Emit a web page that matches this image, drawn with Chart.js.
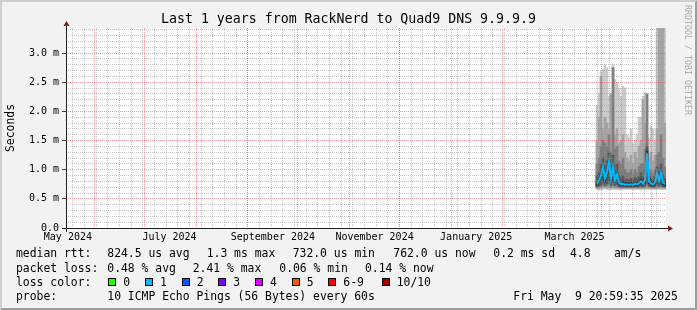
<!DOCTYPE html>
<html>
<head>
<meta charset="utf-8">
<script src="https://cdn.jsdelivr.net/npm/chart.js@4.4.0/dist/chart.umd.min.js"></script>
<style>
body { margin: 0; background: #f2f2f2; }
#wrap { position: relative; width: 697px; height: 310px; font-family: 'DejaVu Sans Mono', monospace; color: #000; }
#wrap canvas { position: absolute; left: 0; top: 0; }
.t { position: absolute; white-space: pre; font-size: 11.4px; line-height: 14px; }
.sw { position: absolute; top: 278px; width: 8px; height: 8px; box-sizing: border-box; border: 1px solid #000; }
#title { left: 0; width: 697px; text-align: center; top: 11.4px; font-size: 13.25px; line-height: 16px; }
#wm { left: 693px; top: 5px; font-size: 8.3px; line-height: 10px; color: rgba(0,0,0,0.33); transform: rotate(90deg); transform-origin: 0 0; }
</style>
</head>
<body>
<div id="wrap">
  <canvas id="graph" width="697" height="310"></canvas>
  <div class="t" id="title">Last 1 years from RackNerd to Quad9 DNS 9.9.9.9</div>
  <div class="t" id="wm">RRDTOOL / TOBI OETIKER</div>

  <div class="t" style="left:16px;top:246.4px">median rtt:</div>
  <div class="t" style="left:107.3px;top:246.4px">824.5 us avg</div>
  <div class="t" style="left:206.7px;top:246.4px">1.3 ms max</div>
  <div class="t" style="left:292.7px;top:246.4px">732.0 us min</div>
  <div class="t" style="left:393.3px;top:246.4px">762.0 us now</div>
  <div class="t" style="left:493.3px;top:246.4px">0.2 ms sd</div>
  <div class="t" style="left:570px;top:246.4px">4.8</div>
  <div class="t" style="left:614px;top:246.4px">am/s</div>

  <div class="t" style="left:16px;top:260.9px">packet loss:</div>
  <div class="t" style="left:107.3px;top:260.9px">0.48 % avg</div>
  <div class="t" style="left:192.7px;top:260.9px">2.41 % max</div>
  <div class="t" style="left:279.3px;top:260.9px">0.06 % min</div>
  <div class="t" style="left:365px;top:260.9px">0.14 % now</div>

  <div class="t" style="left:16px;top:274.8px">loss color:</div>
  <div id="losskey"></div>

  <div class="t" style="left:16px;top:288.6px">probe:</div>
  <div class="t" style="left:107.3px;top:288.6px">10 ICMP Echo Pings (56 Bytes) every 60s</div>
  <div class="t" style="left:513.3px;top:288.6px">Fri May  9 20:59:35 2025</div>
</div>
<script>
// graph covers 360 days ending Fri May 9 2025 20:59 -> x values are days since the left edge
const start = Date.parse('2024-05-14T21:00:00Z');
const span = 360;
const toDay = d => (Date.parse(d + 'T00:00:00Z') - start) / 86400000;

const monthLines = ['2024-06-01', '2024-07-01', '2024-08-01', '2024-09-01', '2024-10-01', '2024-11-01',
  '2024-12-01', '2025-01-01', '2025-02-01', '2025-03-01', '2025-04-01', '2025-05-01'];
const labelDates = ['2024-05-16', '2024-07-16', '2024-09-16', '2024-11-16', '2025-01-16', '2025-03-16'];
const monthLabels = ['May 2024', 'July 2024', 'September 2024', 'November 2024', 'January 2025', 'March 2025'];
const firstWeek = '2024-05-19';

// loss legend
const lossNames = ['0', '1', '2', '3', '4', '5', '6-9', '10/10'];
const lossColors = ['#26ff00', '#00b8ff', '#0059ff', '#7e00ff', '#dd00ff', '#ff5500', '#ff0000', '#a00000'];
const lossX = [108.3, 145, 181.7, 218.3, 255, 291.7, 328.3, 381.7];

// data only exists for the last ~6 weeks (values in ms)
const times = [318.6, 319.8, 321.0, 322.2, 323.4, 324.6, 325.8, 327.0, 328.2, 329.4,
  330.6, 331.8, 333.0, 334.2, 335.4, 336.6, 337.8, 339.0, 340.2, 341.4,
  342.6, 343.8, 345.0, 346.2, 347.4, 348.6, 349.8, 351.0, 352.2, 353.4,
  354.6, 355.8, 357.0, 358.2, 359.4];
const median = [0.76, 0.82, 0.90, 1.05, 0.85, 0.95, 1.14, 0.85, 1.05, 0.82,
  0.92, 0.78, 0.75, 0.76, 0.74, 0.75, 0.74, 0.75, 0.74, 0.76,
  0.75, 0.77, 0.80, 0.76, 0.82, 1.28, 0.80, 0.76, 0.75, 0.78,
  0.95, 0.80, 0.95, 0.78, 0.75];
// smoke bands, outermost (lightest) to innermost (darkest)
const band1Lo = [0.66, 0.65, 0.66, 0.66, 0.67, 0.66, 0.66, 0.65, 0.66, 0.66,
  0.66, 0.65, 0.66, 0.66, 0.66, 0.66, 0.66, 0.66, 0.65, 0.66,
  0.66, 0.66, 0.65, 0.66, 0.66, 0.66, 0.66, 0.66, 0.66, 0.66,
  0.66, 0.66, 0.66, 0.66, 0.66];
const band1Hi = [2.10, 2.30, 2.68, 2.72, 2.80, 2.75, 2.26, 2.30, 2.80, 2.55,
  2.50, 2.40, 2.26, 2.43, 2.40, 1.60, 1.55, 1.70, 1.45, 1.50,
  1.60, 1.90, 1.90, 2.26, 2.32, 2.30, 1.55, 1.75, 1.70, 1.50,
  3.50, 3.50, 3.50, 3.50, 3.50];
const band2Lo = [0.68, 0.67, 0.68, 0.69, 0.70, 0.68, 0.69, 0.68, 0.69, 0.68,
  0.68, 0.68, 0.68, 0.68, 0.68, 0.68, 0.68, 0.68, 0.68, 0.68,
  0.68, 0.68, 0.68, 0.68, 0.68, 0.68, 0.68, 0.68, 0.68, 0.68,
  0.68, 0.68, 0.68, 0.68, 0.68];
const band2Hi = [1.50, 1.90, 2.60, 1.70, 1.90, 1.80, 1.70, 2.30, 2.00, 1.60,
  1.70, 1.45, 1.50, 1.60, 1.30, 1.20, 1.15, 1.25, 1.10, 1.30,
  1.20, 1.40, 1.50, 2.20, 1.80, 1.60, 1.20, 1.30, 1.15, 1.25,
  1.70, 3.50, 3.50, 3.50, 1.80];
const band3Lo = [0.69, 0.70, 0.71, 0.73, 0.71, 0.72, 0.74, 0.70, 0.73, 0.70,
  0.71, 0.69, 0.69, 0.69, 0.69, 0.69, 0.69, 0.69, 0.69, 0.69,
  0.69, 0.69, 0.70, 0.69, 0.70, 0.75, 0.70, 0.69, 0.69, 0.69,
  0.71, 0.70, 0.71, 0.69, 0.69];
const band3Hi = [1.10, 1.20, 1.40, 1.50, 1.45, 1.40, 1.60, 1.30, 2.75, 1.35,
  1.40, 1.15, 1.10, 1.20, 1.00, 0.95, 0.95, 1.00, 0.92, 1.00,
  0.95, 1.05, 1.10, 1.10, 1.35, 2.30, 1.00, 0.98, 0.92, 1.00,
  1.25, 1.30, 1.60, 1.20, 1.05];
const band4Lo = [0.71, 0.72, 0.74, 0.78, 0.74, 0.76, 0.80, 0.73, 0.78, 0.73,
  0.75, 0.71, 0.70, 0.71, 0.70, 0.70, 0.70, 0.70, 0.70, 0.71,
  0.70, 0.71, 0.72, 0.71, 0.72, 0.85, 0.72, 0.71, 0.70, 0.71,
  0.75, 0.72, 0.75, 0.71, 0.70];
const band4Hi = [0.90, 0.95, 1.10, 1.20, 1.05, 1.15, 1.30, 1.05, 1.25, 1.00,
  1.10, 0.90, 0.86, 0.90, 0.82, 0.84, 0.82, 0.85, 0.82, 0.86,
  0.84, 0.88, 0.95, 0.88, 1.00, 1.40, 0.90, 0.86, 0.82, 0.88,
  1.05, 0.95, 1.10, 0.90, 0.85];
const band5Lo = [0.73, 0.78, 0.85, 0.98, 0.80, 0.90, 1.05, 0.80, 0.98, 0.78,
  0.86, 0.75, 0.72, 0.73, 0.72, 0.72, 0.72, 0.72, 0.72, 0.73,
  0.72, 0.74, 0.76, 0.73, 0.77, 1.15, 0.76, 0.73, 0.72, 0.75,
  0.88, 0.76, 0.88, 0.74, 0.72];
const band5Hi = [0.80, 0.85, 0.93, 1.08, 0.90, 0.98, 1.17, 0.88, 1.08, 0.86,
  0.95, 0.81, 0.78, 0.80, 0.77, 0.78, 0.77, 0.78, 0.77, 0.79,
  0.78, 0.80, 0.84, 0.80, 0.86, 1.32, 0.84, 0.80, 0.78, 0.82,
  0.98, 0.84, 0.98, 0.82, 0.78];

const smokeColors = ['#cacaca', '#a4a4a4', '#7e7e7e', '#585858', '#323232'];
const bands = [[band1Lo, band1Hi], [band2Lo, band2Hi], [band3Lo, band3Hi], [band4Lo, band4Hi], [band5Lo, band5Hi]];

const GRID = 'rgba(143,143,143,0.5)';
const MGRID = 'rgba(222,79,79,0.55)';

// loss color key
const key = document.getElementById('losskey');
lossNames.forEach((n, i) => {
  const sw = document.createElement('div');
  sw.className = 'sw';
  sw.style.left = lossX[i] + 'px';
  sw.style.background = lossColors[i];
  key.appendChild(sw);
  const lb = document.createElement('div');
  lb.className = 't';
  lb.style.left = (lossX[i] + 15) + 'px';
  lb.style.top = '274.8px';
  lb.textContent = n;
  key.appendChild(lb);
});

// x ticks: weekly minor grid, monthly major grid, mid-month labels
const xTicks = [];
for (let d = toDay(firstWeek); d < span; d += 7) xTicks.push({value: d, kind: 'week'});
monthLines.forEach(m => xTicks.push({value: toDay(m), kind: 'month'}));
labelDates.forEach((d, i) => xTicks.push({value: toDay(d), kind: 'label', text: monthLabels[i]}));

const yTicks = [];
for (let i = 0; i <= 34; i++) yTicks.push({value: i / 10});
const isMajor = v => v > 0 && Math.abs(v * 2 - Math.round(v * 2)) < 1e-6;

const datasets = [{
  type: 'line',
  label: 'median',
  data: times.map((t, i) => ({x: t, y: median[i]})),
  borderColor: '#00b8ff',
  borderWidth: 2,
  pointRadius: 0,
  tension: 0,
  order: 0
}];
bands.forEach(([lo, hi], b) => {
  datasets.push({
    label: 'smoke' + (b + 1),
    data: times.map((t, i) => ({x: t, y: [lo[i], hi[i]]})),
    backgroundColor: smokeColors[b],
    barThickness: 2,
    grouped: false,
    order: 10 - b
  });
});

const rrdFrame = {
  id: 'rrdFrame',
  beforeDraw(chart) {
    const {ctx, width: w, height: h, chartArea: a} = chart;
    ctx.save();
    ctx.fillStyle = '#f2f2f2';
    ctx.fillRect(0, 0, w, h);
    ctx.fillStyle = '#cfcfcf';
    ctx.beginPath();
    ctx.moveTo(0, 0); ctx.lineTo(0, h); ctx.lineTo(2, h - 2); ctx.lineTo(2, 2); ctx.lineTo(w - 2, 2); ctx.lineTo(w, 0);
    ctx.closePath(); ctx.fill();
    ctx.fillStyle = '#9e9e9e';
    ctx.beginPath();
    ctx.moveTo(0, h); ctx.lineTo(w, h); ctx.lineTo(w, 0); ctx.lineTo(w - 2, 2); ctx.lineTo(w - 2, h - 2); ctx.lineTo(2, h - 2);
    ctx.closePath(); ctx.fill();
    ctx.fillStyle = '#ffffff';
    ctx.fillRect(a.left, a.top, a.right - a.left, a.bottom - a.top);
    ctx.restore();
  },
  afterDraw(chart) {
    const {ctx, chartArea: a} = chart;
    const x0 = a.left + 0.5, y0 = a.bottom + 0.5;
    ctx.save();
    ctx.strokeStyle = '#1f1f1f';
    ctx.lineWidth = 1;
    ctx.beginPath();
    ctx.moveTo(a.left - 4, y0); ctx.lineTo(a.right + 4, y0);
    ctx.moveTo(x0, a.bottom + 4); ctx.lineTo(x0, a.top - 4);
    ctx.stroke();
    ctx.fillStyle = '#801f1f';
    ctx.beginPath();
    ctx.moveTo(a.right + 2, y0 - 3); ctx.lineTo(a.right + 2, y0 + 3); ctx.lineTo(a.right + 7, y0);
    ctx.closePath(); ctx.fill();
    ctx.beginPath();
    ctx.moveTo(x0 - 3, a.top - 2); ctx.lineTo(x0 + 3, a.top - 2); ctx.lineTo(x0, a.top - 7);
    ctx.closePath(); ctx.fill();
    ctx.restore();
  }
};

Chart.defaults.font.family = "'DejaVu Sans Mono', monospace";
Chart.defaults.color = '#000';

new Chart(document.getElementById('graph'), {
  type: 'bar',
  data: {datasets: datasets},
  plugins: [rrdFrame],
  options: {
    responsive: false,
    animation: false,
    layout: {padding: {top: 28, left: 2, right: 31, bottom: 0}},
    plugins: {legend: {display: false}, tooltip: {enabled: false}},
    scales: {
      x: {
        type: 'linear',
        min: 0,
        max: span,
        bounds: 'data',
        offset: false,
        afterBuildTicks: s => { s.ticks = xTicks; },
        afterFit: s => { s.height = 82; },
        grid: {
          z: 1,
          offset: false,
          drawTicks: false,
          lineWidth: c => (c.tick && c.tick.kind === 'label') ? 0 : 1,
          color: c => (c.tick && c.tick.kind === 'month') ? MGRID : GRID
        },
        border: {display: false, dash: [1, 1]},
        ticks: {
          autoSkip: false,
          maxRotation: 0,
          minRotation: 0,
          padding: 3,
          font: {size: 10},
          callback: (v, i, ticks) => ticks[i].text || ''
        }
      },
      y: {
        type: 'linear',
        min: 0,
        max: 3.43,
        bounds: 'data',
        afterBuildTicks: s => { s.ticks = yTicks; },
        afterFit: s => { s.width = 64; },
        title: {display: true, text: 'Seconds', font: {size: 11.4}, padding: {top: 2, bottom: 0}},
        grid: {
          z: 1,
          drawTicks: true,
          tickLength: 4,
          lineWidth: c => (c.tick && c.tick.value === 0) ? 0 : 1,
          color: c => isMajor(c.tick.value) ? MGRID : GRID,
          tickColor: c => isMajor(c.tick.value) ? '#444' : 'transparent'
        },
        border: {display: false, dash: [1, 1]},
        ticks: {
          autoSkip: false,
          padding: 3,
          font: {size: 10},
          callback: v => v === 0 ? '0.0' : (isMajor(v) ? v.toFixed(1) + ' m' : '')
        }
      }
    }
  }
});
</script>
</body>
</html>
